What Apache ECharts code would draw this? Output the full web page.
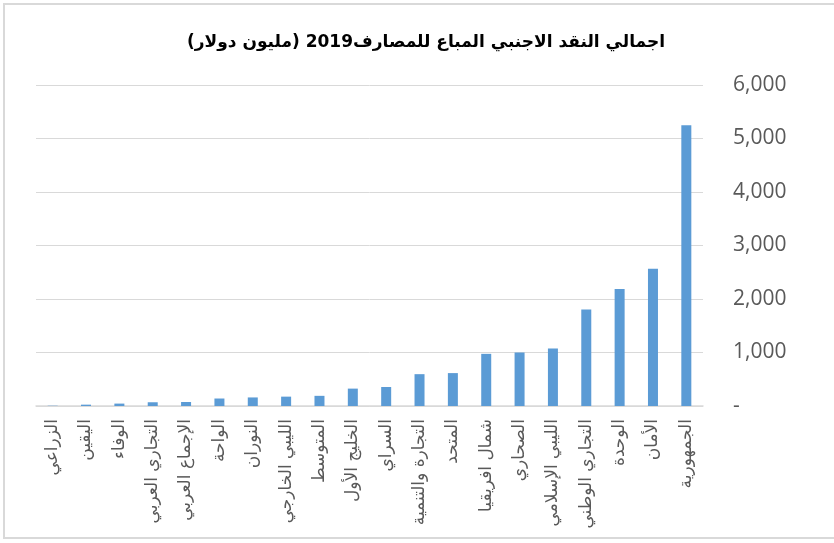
<!DOCTYPE html>
<html>
<head>
<meta charset="utf-8">
<script src="https://cdn.jsdelivr.net/npm/echarts@6/dist/echarts.min.js"></script>
<style>
html,body{margin:0;padding:0;background:#fff;}
#chart{position:absolute;left:0;top:0;width:834px;height:543px;}
#frame{position:absolute;left:3px;top:3px;width:900px;height:536px;border:2px solid #d9d9d9;box-sizing:border-box;pointer-events:none;}
</style>
</head>
<body>
<div id="chart"></div>
<div id="frame"></div>
<script>
const titleText = 'اجمالي النقد الاجنبي المباع للمصارف2019 (مليون دولار)';
const categories = ['الزراعي','اليقين','الوفاء','التجاري العربي','الإجماع العربي','الواحة','النوران','الليبي الخارجي','المتوسط','الخليج الأول','السراي','التجارة والتنمية','المتحد','شمال افريقيا','الصحاري','الليبي الإسلامي','التجاري الوطني','الوحدة','الأمان','الجمهورية'];
const values = [5, 25, 45, 70, 75, 140, 160, 175, 190, 325, 355, 595, 615, 975, 1000, 1075, 1805, 2185, 2565, 5250];
const yMin = 0, yMax = 6000, yStep = 1000;

const chart = echarts.init(document.getElementById('chart'), null, {renderer: 'canvas'});
chart.setOption({
  animation: false,
  backgroundColor: '#ffffff',
  title: {
    text: '\u200F' + titleText + '\u200F',
    left: 421,
    textAlign: 'center',
    top: 29,
    textStyle: {fontSize: 17, fontWeight: 'bold', color: '#000', fontFamily: 'DejaVu Sans'}
  },
  grid: {left: 36, right: 131, top: 85, bottom: 137, containLabel: false},
  xAxis: {
    type: 'category',
    data: categories,
    axisLine: {show: true, lineStyle: {color: '#d9d9d9', width: 1.5}},
    axisTick: {show: false},
    axisLabel: {rotate: 90, interval: 0, margin: 13, fontSize: 17, color: '#595959', fontFamily: 'DejaVu Sans'}
  },
  yAxis: {
    type: 'value',
    position: 'right',
    min: yMin, max: yMax, interval: yStep,
    axisLine: {show: false},
    axisTick: {show: false},
    splitLine: {lineStyle: {color: '#d9d9d9', width: 1}},
    axisLabel: {
      margin: 30, fontSize: 21, color: '#595959', fontFamily: 'Open Sans', align: 'left',
      formatter: v => v === 0 ? '-' : v.toLocaleString('en-US')
    }
  },
  series: [{
    type: 'bar',
    data: values,
    barWidth: 10,
    itemStyle: {color: '#5B9BD5'}
  }]
});
</script>
</body>
</html>
